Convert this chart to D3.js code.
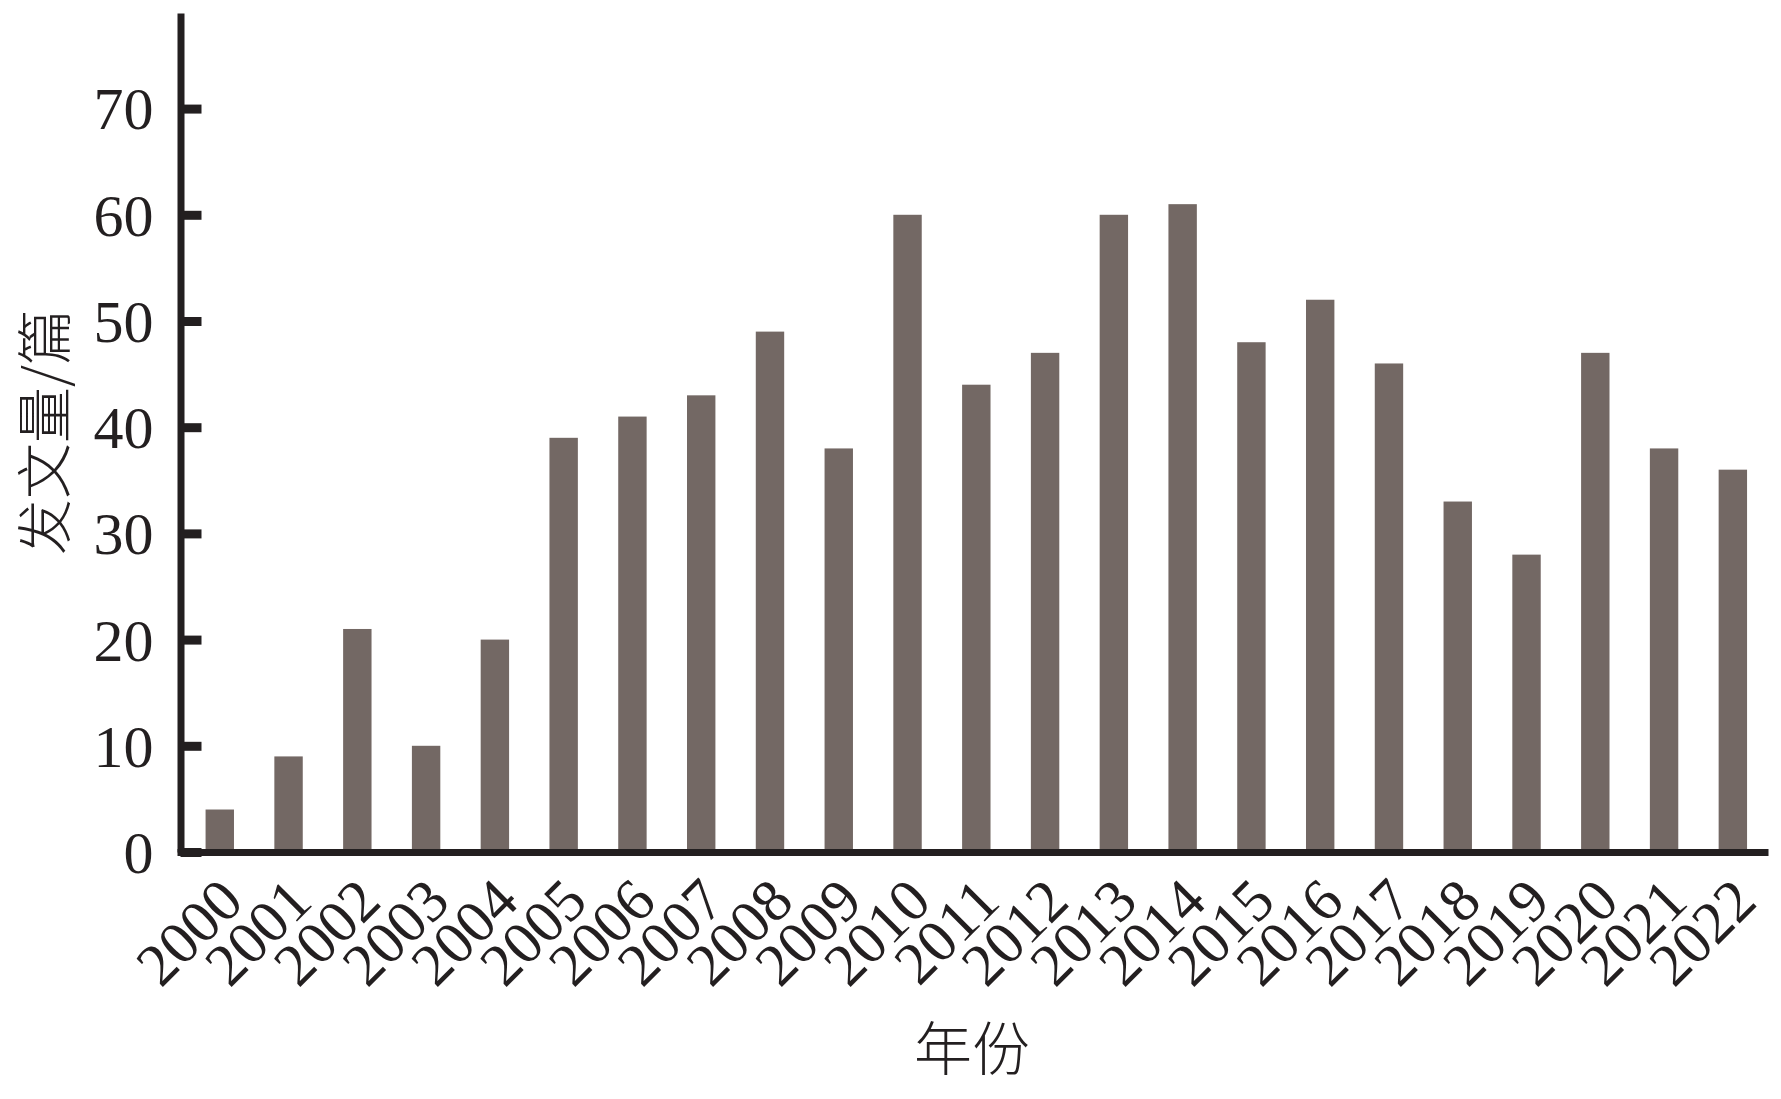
<!DOCTYPE html>
<html>
<head>
<meta charset="utf-8">
<script src="https://cdn.jsdelivr.net/npm/d3@7"></script>
<style>
  body { margin: 0; background: #fff; }
  .axis text { font-family: "Liberation Serif", "Times New Roman", serif; font-size: 60px; fill: #231f20; }
  .title { font-family: "Noto Sans CJK SC", sans-serif; font-weight: 300; fill: #231f20; }
</style>
</head>
<body>
<div class="chart"></div>
<script>
var years = ["2000","2001","2002","2003","2004","2005","2006","2007","2008","2009","2010",
             "2011","2012","2013","2014","2015","2016","2017","2018","2019","2020","2021","2022"]
var counts = [4, 9, 21, 10, 20, 39, 41, 43, 49, 38, 60, 44, 47, 60, 61, 48, 52, 46, 33, 28, 47, 38, 36]
var yTicks = [0, 10, 20, 30, 40, 50, 60, 70]

var width = 1781,
    height = 1099

var svg = d3.select(".chart")
  .append("svg")
  .attr("width", width)
  .attr("height", height)

var x = d3.scaleBand()
  .domain(years)
  .range([177, 1768])
  .paddingInner(0.587)
  .paddingOuter(0.36)
  .align(0.577)

var y = d3.scaleLinear()
  .domain([0, 79])
  .range([852, 13])

// bars
svg.append("g")
  .selectAll("rect")
  .data(counts)
  .enter()
  .append("rect")
  .attr("x", function(d, i) { return x(years[i]); })
  .attr("y", function(d) { return y(d); })
  .attr("width", x.bandwidth())
  .attr("height", function(d) { return y(0) - y(d); })
  .attr("fill", "#736864")

// y axis, ticks pointing inward
var yAxis = svg.append("g")
  .attr("class", "axis")
  .attr("transform", "translate(180.5,0)")
  .call(d3.axisLeft(y).tickValues(yTicks).tickSizeInner(-21).tickSizeOuter(0).tickPadding(27))

yAxis.select(".domain").attr("stroke", "#231f20").attr("stroke-width", 7)
yAxis.selectAll(".tick line").attr("stroke", "#231f20").attr("stroke-width", 9)
yAxis.selectAll(".tick text").attr("dy", "0.34em")

// x axis
var xAxis = svg.append("g")
  .attr("class", "axis")
  .attr("transform", "translate(0,852)")
  .call(d3.axisBottom(x).tickSize(0).tickSizeOuter(0))

xAxis.select(".domain").attr("stroke", "#231f20").attr("stroke-width", 7)
xAxis.selectAll(".tick text")
  .attr("x", 0)
  .attr("y", 0)
  .attr("dy", null)
  .attr("text-anchor", "end")
  .attr("transform", "translate(26,52) rotate(-45)")

// axis titles
svg.append("text")
  .attr("class", "title")
  .attr("transform", "translate(40,432) rotate(-90)")
  .attr("text-anchor", "middle")
  .attr("dominant-baseline", "central")
  .attr("font-size", 56)
  .text("发文量/篇")

svg.append("text")
  .attr("class", "title")
  .attr("x", 972)
  .attr("y", 1045)
  .attr("text-anchor", "middle")
  .attr("dominant-baseline", "central")
  .attr("font-size", 58)
  .text("年份")
</script>
</body>
</html>
